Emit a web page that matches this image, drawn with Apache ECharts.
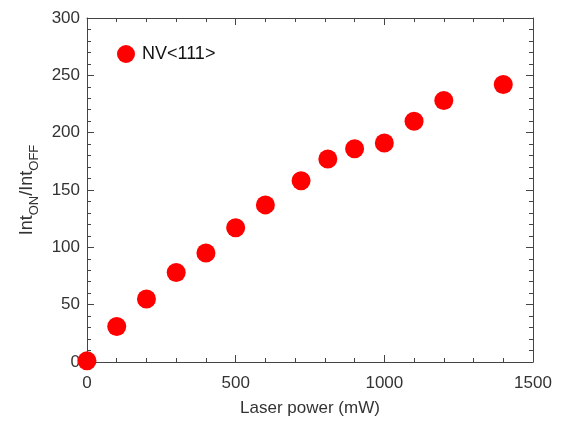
<!DOCTYPE html>
<html>
<head>
<meta charset="utf-8">
<script src="https://cdn.jsdelivr.net/npm/echarts@6/dist/echarts.min.js"></script>
<style>
  html, body { margin: 0; padding: 0; background: #fff; }
  #chart { width: 561px; height: 422px; }
</style>
</head>
<body>
<div id="chart"></div>
<script>
// laser power (mW) and intensity ratio
const powers = [0, 100, 200, 300, 400, 500, 600, 720, 810, 900, 1000, 1100, 1200, 1400]
const ratios = [1, 31, 55, 78, 95, 117, 137, 158, 177, 186, 191, 210, 228, 242]
const seriesName = 'NV<111>'

const axisColor = '#444'
const fontFamily = 'Liberation Sans, Arial, Helvetica, sans-serif'

function frameAxis(extra) {
  return Object.assign({
    type: 'value',
    axisLine: { show: true, onZero: false, lineStyle: { color: axisColor, width: 1 } },
    axisTick: { show: true, inside: true, length: 7, lineStyle: { color: axisColor } },
    minorTick: { show: true, splitNumber: 5, length: 4, lineStyle: { color: axisColor } },
    splitLine: { show: false },
    minorSplitLine: { show: false }
  }, extra)
}

const chart = echarts.init(document.getElementById('chart'))
chart.setOption({
  animation: false,
  textStyle: { fontFamily: fontFamily },
  grid: { left: 87, right: 28, top: 18, bottom: 58 },
  legend: {
    left: 112,
    top: 40,
    icon: 'circle',
    itemWidth: 18,
    itemHeight: 18,
    itemGap: 6,
    textStyle: { fontSize: 18, color: '#111', fontFamily: fontFamily, padding: [0, 0, 0, 2] },
    data: [seriesName]
  },
  xAxis: [
    frameAxis({
      position: 'bottom', min: 0, max: 1500, interval: 500,
      axisLabel: { fontSize: 17, color: '#333', margin: 13, formatter: v => String(v) },
      name: 'Laser power (mW)', nameLocation: 'middle', nameGap: 38,
      nameTextStyle: { fontSize: 17, color: '#333' }
    }),
    frameAxis({
      position: 'top', min: 0, max: 1500, interval: 500,
      axisLabel: { show: false }
    })
  ],
  yAxis: [
    frameAxis({
      position: 'left', min: 0, max: 300, interval: 50,
      axisLabel: { fontSize: 17, color: '#333', margin: 7 },
      name: '{n|Int}{s|ON}{n|/Int}{s|OFF}', nameLocation: 'middle', nameGap: 51,
      nameRotate: 90,
      nameTextStyle: {
        rich: {
          n: { fontSize: 18, color: '#333', fontFamily: fontFamily, lineHeight: 22, verticalAlign: 'bottom' },
          s: { fontSize: 13, color: '#333', fontFamily: fontFamily, lineHeight: 13, verticalAlign: 'bottom', padding: [0, 0, -5, 0] }
        }
      }
    }),
    frameAxis({
      position: 'right', min: 0, max: 300, interval: 50,
      axisLabel: { show: false }
    })
  ],
  series: [{
    name: seriesName,
    type: 'scatter',
    xAxisIndex: 0,
    yAxisIndex: 0,
    symbol: 'circle',
    symbolSize: 19,
    itemStyle: { color: '#ff0000', opacity: 1 },
    data: powers.map((p, i) => [p, ratios[i]])
  }]
})
</script>
</body>
</html>
